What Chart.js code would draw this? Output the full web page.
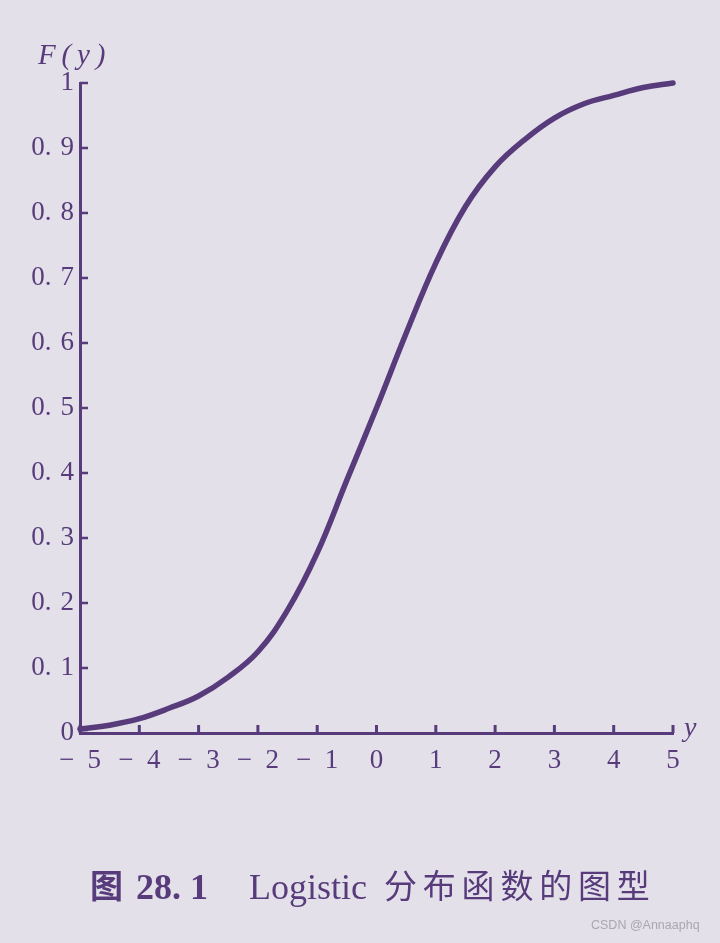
<!DOCTYPE html>
<html>
<head>
<meta charset="utf-8">
<script src="https://cdn.jsdelivr.net/npm/chart.js@4"></script>
<style>
  html, body { margin: 0; padding: 0; background: #e3e0ea; }
  body { width: 720px; height: 943px; position: relative; overflow: hidden; }
  #wrap { position: absolute; left: 0; top: 0; width: 720px; height: 943px; }
  .lbl { position: absolute; color: #573b7b; white-space: nowrap; line-height: 1; }
  .serif { font-family: "Liberation Serif", "DejaVu Serif", serif; }
  .cjk { font-family: "Noto Sans CJK SC", sans-serif; }
</style>
</head>
<body>
<div id="wrap"><canvas id="grafico" width="720" height="943"></canvas></div>

<div class="lbl serif" style="left:38px; top:40px; font-size:29px; font-style:italic;">F&#8201;(&#8201;y&#8201;)</div>
<div class="lbl serif" style="left:684px; top:713px; font-size:28px; font-style:italic;">y</div>

<div class="lbl cjk" style="left:90px; top:868px; font-size:33px; font-weight:bold;">图</div>
<div class="lbl serif" style="left:136px; top:869px; font-size:36px; font-weight:bold;">28. 1</div>
<div class="lbl serif" style="left:249px; top:869px; font-size:36px;">Logistic</div>
<div class="lbl cjk" style="left:384px; top:868px; font-size:33px; letter-spacing:5.8px;">分布函数的图型</div>
<div class="lbl" style="left:591px; top:919px; font-size:12.5px; color:#a9a7b0; font-family:'Liberation Sans', Arial, sans-serif;">CSDN @Annaaphq</div>

<script>
// cores do desenho
const tinta = '#573b7b';

// valores
const valoresY = [-5, -4.5, -4, -3.5, -3, -2.5, -2, -1.5, -1, -0.5, 0, 0.5, 1, 1.5, 2, 2.5, 3, 3.5, 4, 4.5, 5];
const valoresF = [0.006, 0.012, 0.022, 0.038, 0.057, 0.086, 0.125, 0.189, 0.277, 0.389, 0.5, 0.615, 0.723, 0.81, 0.871, 0.913, 0.946, 0.968, 0.981, 0.993, 1.0];

// marcas dos eixos
const marcasX = [-5, -4, -3, -2, -1, 0, 1, 2, 3, 4, 5];
const marcasY = [0, 0.1, 0.2, 0.3, 0.4, 0.5, 0.6, 0.7, 0.8, 0.9, 1];

const pontos = valoresY.map((y, i) => ({ x: y, y: valoresF[i] }));

// desenha os tracinhos para dentro do grafico
const tracosPlugin = {
    id: 'tracos',
    afterDatasetsDraw(chart) {
        const ctx = chart.ctx;
        const sx = chart.scales.x;
        const sy = chart.scales.y;
        const base = sy.getPixelForValue(0);
        const esq = sx.left;
        ctx.save();
        ctx.strokeStyle = tinta;
        ctx.lineWidth = 3;
        marcasX.forEach(v => {
            const px = sx.getPixelForValue(v);
            ctx.beginPath();
            ctx.moveTo(px, base);
            ctx.lineTo(px, base - 8);
            ctx.stroke();
        });
        ctx.lineWidth = 2.5;
        marcasY.forEach(v => {
            const py = sy.getPixelForValue(v);
            ctx.beginPath();
            ctx.moveTo(esq, py);
            ctx.lineTo(esq + 8, py);
            ctx.stroke();
        });
        ctx.restore();
    }
};

const fonteEixo = { family: '"Liberation Serif", "DejaVu Serif", serif', size: 27 };

const ctx = document.getElementById('grafico').getContext('2d');
const grafico = new Chart(ctx, {
    type: 'line',
    data: {
        datasets: [{
            data: pontos,
            borderColor: tinta,
            borderWidth: 5.5,
            borderCapStyle: 'round',
            borderJoinStyle: 'round',
            pointRadius: 0,
            tension: 0.4,
            fill: false,
            clip: false
        }]
    },
    options: {
        responsive: false,
        animation: false,
        devicePixelRatio: 1,
        layout: { padding: { top: 83, right: 47, bottom: 150, left: 0 } },
        plugins: { legend: { display: false }, tooltip: { enabled: false } },
        scales: {
            x: {
                type: 'linear',
                min: -5,
                max: 5,
                afterBuildTicks: (s) => { s.ticks = marcasX.map(v => ({ value: v })); },
                afterFit: (s) => { s.height = 60; },
                grid: { display: false, drawTicks: false },
                border: { display: true, color: tinta, width: 3 },
                ticks: {
                    color: tinta,
                    font: fonteEixo,
                    padding: 12,
                    maxRotation: 0,
                    autoSkip: false,
                    callback: (v) => v < 0 ? '\u2212\u2002' + (-v) : String(v)
                }
            },
            y: {
                type: 'linear',
                min: 0,
                max: 1,
                afterBuildTicks: (s) => { s.ticks = marcasY.map(v => ({ value: v })); },
                afterFit: (s) => { s.width = 80; },
                grid: { display: false, drawTicks: false },
                border: { display: true, color: tinta, width: 3 },
                ticks: {
                    color: tinta,
                    font: fonteEixo,
                    padding: 6,
                    autoSkip: false,
                    callback: (v) => {
                        const d = Math.round(v * 10);
                        if (d === 0) return '0';
                        if (d === 10) return '1';
                        return '0. \u200a' + d;
                    }
                }
            }
        }
    },
    plugins: [tracosPlugin]
});
</script>
</body>
</html>
